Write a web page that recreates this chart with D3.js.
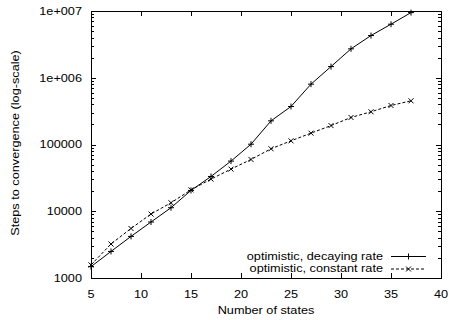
<!DOCTYPE html>
<html>
<head>
<meta charset="utf-8">
<script src="https://cdn.jsdelivr.net/npm/d3@7"></script>
<style>
body { margin: 0; background: #fff; }
svg text { font-family: "Liberation Sans", Arial, sans-serif; font-size: 10.6px; fill: #000; }
</style>
</head>
<body>
<div id="chart"></div>
<script>
var states = [5, 7, 9, 11, 13, 15, 17, 19, 21, 23, 25, 27, 29, 31, 33, 35, 37]
var decaying = [1480, 2500, 4200, 6900, 11300, 20500, 33200, 56400, 101000, 226000, 371000, 802000, 1470000, 2710000, 4290000, 6340000, 9460000]
var constant = [1570, 3230, 5520, 9080, 13400, 20900, 30300, 42800, 59700, 86300, 113500, 148000, 192000, 254000, 309000, 384000, 451000]
var xTicks = [5, 10, 15, 20, 25, 30, 35, 40]
var yTicks = [1000, 10000, 100000, 1000000, 10000000]
var yTickLabels = ["1000", "10000", "100000", "1e+006", "1e+007"]

var W = 449, H = 320
var m = {left: 91, right: 8, top: 11, bottom: 42}
var stretch = 1.2
var svg = d3.select("#chart").append("svg").attr("width", W).attr("height", H)

var x = d3.scaleLinear().domain([5, 40]).range([m.left, W - m.right])
var y = d3.scaleLog().domain([1000, 10000000]).range([H - m.bottom, m.top])

// text in the reference is a little wider than tall
function label(px, py, txt, anchor, rot) {
  return svg.append("text")
    .attr("transform", "translate(" + px + "," + py + ")" + (rot ? " rotate(" + rot + ")" : "") + " scale(" + stretch + ",1)")
    .attr("text-anchor", anchor).text(txt)
}

// minor ticks on log axis
var minor = []
for (var e = 3; e < 7; e++) for (var k = 2; k < 10; k++) minor.push(k * Math.pow(10, e))

var g = svg.append("g")
g.selectAll(".ymaj").data(yTicks).enter().append("path")
  .attr("d", function(d) { var yy = Math.round(y(d)) + 0.5; return "M" + m.left + "," + yy + "h5M" + (W - m.right) + "," + yy + "h-5" })
  .attr("stroke", "#000")
g.selectAll(".ymin").data(minor).enter().append("path")
  .attr("d", function(d) { var yy = Math.round(y(d)) + 0.5; return "M" + m.left + "," + yy + "h3M" + (W - m.right) + "," + yy + "h-3" })
  .attr("stroke", "#000")
g.selectAll(".xmaj").data(xTicks).enter().append("path")
  .attr("d", function(d) { var xx = Math.round(x(d)) + 0.5; return "M" + xx + "," + (H - m.bottom) + "v-5M" + xx + "," + m.top + "v5" })
  .attr("stroke", "#000")

yTicks.forEach(function(d, i) { label(m.left - 9, y(d) + 3.8, yTickLabels[i], "end") })
xTicks.forEach(function(d) { label(x(d), 298, d, "middle") })

svg.append("rect").attr("x", m.left + 0.5).attr("y", m.top + 0.5)
  .attr("width", W - m.right - m.left).attr("height", H - m.bottom - m.top)
  .attr("fill", "none").attr("stroke", "#000")

label((m.left + W - m.right) / 2, 313.5, "Number of states", "middle")
label(19, 143, "Steps to convergence (log-scale)", "middle", -90)

var line = d3.line().x(function(d) { return x(d[0]) }).y(function(d) { return y(d[1]) })
var dec = states.map(function(s, i) { return [s, decaying[i]] })
var con = states.map(function(s, i) { return [s, constant[i]] })

function plus(sel, cx, cy) {
  sel.append("path").attr("d", "M" + (cx - 3) + "," + cy + "h6M" + cx + "," + (cy - 3) + "v6")
    .attr("stroke", "#000").attr("stroke-width", 1)
}
function cross(sel, cx, cy) {
  sel.append("path").attr("d", "M" + (cx - 2.5) + "," + (cy - 2.5) + "l5,5M" + (cx - 2.5) + "," + (cy + 2.5) + "l5,-5")
    .attr("stroke", "#000").attr("stroke-width", 1)
}

svg.append("path").datum(dec).attr("d", line).attr("fill", "none").attr("stroke", "#000").attr("stroke-width", 1)
svg.append("path").datum(con).attr("d", line).attr("fill", "none").attr("stroke", "#000").attr("stroke-width", 1)
  .attr("stroke-dasharray", "3,2")
var pts = svg.append("g")
dec.forEach(function(d) { plus(pts, x(d[0]), y(d[1])) })
con.forEach(function(d) { cross(pts, x(d[0]), y(d[1])) })

// legend
var legend = [{label: "optimistic, decaying rate", dash: null, mark: plus},
              {label: "optimistic, constant rate", dash: "3,2", mark: cross}]
legend.forEach(function(l, i) {
  var ly = 256 + i * 12.5
  label(383, ly + 3.8, l.label, "end")
  svg.append("path").attr("d", "M391," + (ly + 0.5) + "H426").attr("stroke", "#000").attr("stroke-dasharray", l.dash)
  l.mark(svg, 408.5, ly + 0.5)
})
</script>
</body>
</html>
